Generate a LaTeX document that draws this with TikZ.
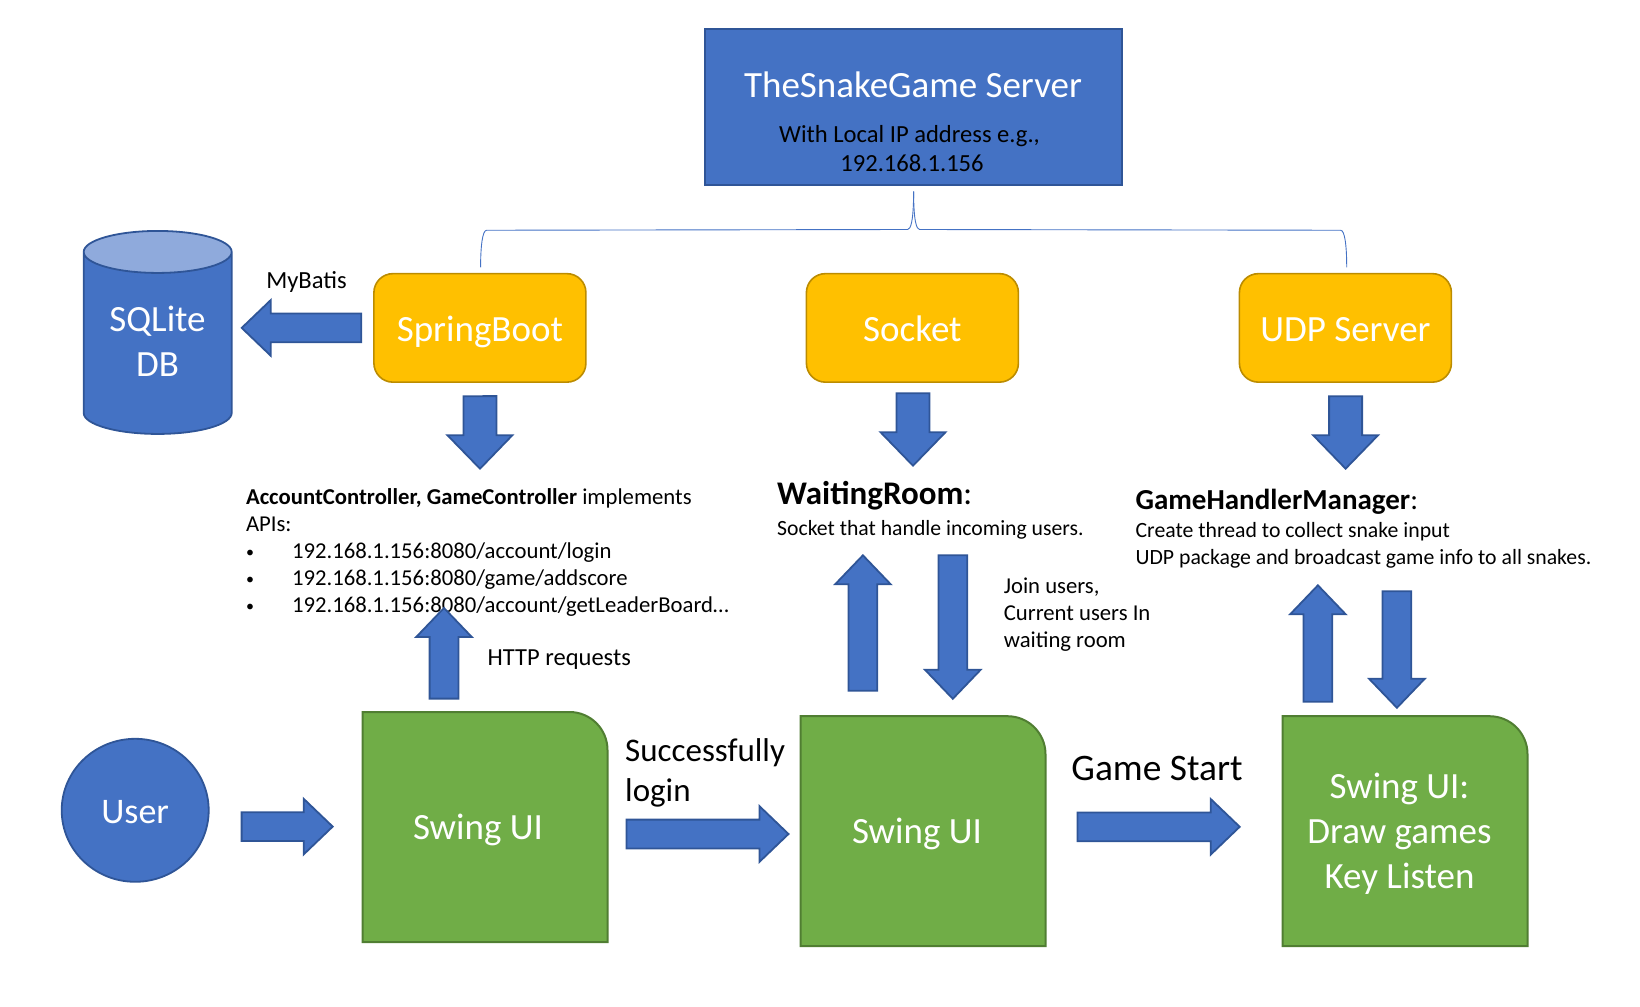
\documentclass[tikz,border=0pt]{standalone}
\usepackage{fontspec}
\setmainfont{Carlito}
\usepackage{xcolor}
\usepackage{tikz}
\usetikzlibrary{shapes.geometric, positioning, calc, backgrounds}
\definecolor{blockblue}{HTML}{4472C4}
\definecolor{blockedge}{HTML}{2F5597}
\definecolor{capblue}{HTML}{8FAADC}
\definecolor{goldfill}{HTML}{FFC000}
\definecolor{goldedge}{HTML}{BC8C00}
\definecolor{swinggreen}{HTML}{70AD47}
\definecolor{swingedge}{HTML}{507E32}
\tikzset{
  bigtext/.style={text=white,font=\fontsize{37}{45}\selectfont,align=center},
  smalltext/.style={black,inner sep=0,align=left,font=\fontsize{22.7}{27}\selectfont},
  goldbox/.style={draw=goldedge,fill=goldfill,line width=1.6,rounded corners=19,minimum width=212,minimum height=108.5,outer sep=0,bigtext,text height=26.4,text depth=0},
  swingbox/.style={minimum width=245,minimum height=230,outer sep=0,bigtext,text depth=0},
  swingback/.style={draw=swingedge,fill=swinggreen,line width=2},
  bracelink/.style={draw=blockblue,line width=0.9},
  blockpath/.style n args={3}{draw=blockedge,fill=blockblue,line width=1.8,
    to path={-- ($(\tikztostart)!#1pt!90:(\tikztotarget)$)
      -- ($($(\tikztotarget)!#3pt!(\tikztostart)$)!#1pt!90:(\tikztotarget)$)
      -- ($($(\tikztotarget)!#3pt!(\tikztostart)$)!#2pt!90:(\tikztotarget)$)
      -- (\tikztotarget)
      -- ($($(\tikztotarget)!#3pt!(\tikztostart)$)!#2pt!-90:(\tikztotarget)$)
      -- ($($(\tikztotarget)!#3pt!(\tikztostart)$)!#1pt!-90:(\tikztotarget)$)
      -- ($(\tikztostart)!#1pt!-90:(\tikztotarget)$) -- cycle}},
  blockarrow/.style={blockpath={14.4}{27.8}{29}},
  widearrow/.style={blockpath={16.5}{32.4}{33.4}},
}
\begin{document}
\begin{tikzpicture}[x=1pt,y=-1pt]%
\useasboundingbox (0,0) rectangle (1640,1006);%
\node[draw=blockedge,fill=blockblue,line width=2,outer sep=0,minimum width=417,minimum height=156] (server) at (913.2,107.2) {};%
\node[text=white,font=\fontsize{37}{45}\selectfont] (server_title) at (913,85) {TheSnakeGame Server};%
\node[black,align=center,font=\fontsize{24.6}{28.4}\selectfont] (server_ip) at (912,148.5) {With Local IP address e.g.,\hspace*{5pt}\\192.168.1.156};%
\node[goldbox] (spring) at (479.9,327.9) {SpringBoot};%
\node[goldbox] (sock) at (912.4,327.9) {Socket};%
\node[goldbox] (udp) at (1345.4,327.9) {UDP Server};%
\node[cylinder,shape border rotate=90,aspect=6.3,draw=blockedge,line width=1.8,cylinder uses custom fill,cylinder body fill=blockblue,cylinder end fill=capblue,minimum width=148,minimum height=203,outer sep=0,bigtext] (sqlite) at (157.7,346.5) {};%
\node[bigtext] (sqlite_txt) at (157.5,341.5) {SQLite\\DB};%
\node[ellipse,draw=blockedge,fill=blockblue,line width=1.8,minimum width=147,minimum height=143,inner sep=0,outer sep=0,bigtext,font=\fontsize{36}{45}\selectfont,text height=27] (user) at (135.2,810.3) {User};%
\node[swingbox] (swing1) at (485,827) {\hspace*{-14pt}Swing UI};%
\node[swingbox] (swing2) at (923,831.2) {\hspace*{-12pt}Swing UI};%
\node[swingbox] (swing3) at (1405,831.2) {\hspace*{-11pt}Swing UI:\\\hspace*{-11pt}Draw games\\\hspace*{-11pt}Key Listen};%
\begin{scope}[on background layer]%
\foreach \n in {swing1,swing2,swing3} {%
\draw[swingback] (\n.south west) -- (\n.north west) [rounded corners=38] -- (\n.north east) [sharp corners] -- (\n.south east) -- cycle;%
}%
\end{scope}%
\node[smalltext,anchor=center,font=\fontsize{24.6}{28}\selectfont] (mybatis) at (306.5,282) {MyBatis};%
\node[smalltext,anchor=north west] (account) at (245.8,488.5) {\textbf{AccountController, GameController} implements\\APIs:\\\makebox[46pt][l]{\fontsize{16}{16}\selectfont\raisebox{1.5pt}{•}}192.168.1.156:8080/account/login\\\makebox[46pt][l]{\fontsize{16}{16}\selectfont\raisebox{1.5pt}{•}}192.168.1.156:8080/game/addscore\\\makebox[46pt][l]{\fontsize{16}{16}\selectfont\raisebox{1.5pt}{•}}192.168.1.156:8080/account/getLeaderBoard…};%
\node[smalltext,anchor=north west,font=\fontsize{21.7}{26.7}\selectfont] (waiting) at (777,480.7) {{\fontsize{33}{33}\selectfont\textbf{WaitingRoom}:}\\[5pt]Socket that handle incoming users.};%
\node[smalltext,anchor=north west,font=\fontsize{21.75}{26.7}\selectfont] (game) at (1135.4,488.7) {{\fontsize{29}{29}\selectfont\textbf{GameHandlerManager}:}\\[2pt]Create thread to collect snake input\\UDP package and broadcast game info to all snakes.};%
\node[smalltext,anchor=north west] (join) at (1003.6,578) {Join users,\\Current users In\\waiting room};%
\node[smalltext,anchor=west,font=\fontsize{24.5}{28}\selectfont] (http) at (487.5,660) {HTTP requests};%
\node[smalltext,anchor=north west,font=\fontsize{33}{40}\selectfont] (success) at (625,738) {Successfully\\login};%
\node[smalltext,anchor=center,font=\fontsize{37.4}{40}\selectfont] (start) at (1157,768) {Game Start};%
\coordinate (brace_tip) at ($(server.south)+(0.4,6.3)$);%
\coordinate (brace_l) at ($(spring.north)+(0.7,-6.4)$);%
\coordinate (brace_r) at ($(udp.north)+(1.3,-6.4)$);%
\draw[bracelink] (brace_tip) .. controls +(0,30) and +(3,0) .. ++(-6,38) -- ($(brace_l)+(6,-37)$) .. controls +(-4,0) and +(0,-22) .. (brace_l);%
\draw[bracelink] (brace_tip) .. controls +(0,30) and +(-3,0) .. ++(6,38) -- ($(brace_r)+(-6,-37)$) .. controls +(4,0) and +(0,-22) .. (brace_r);%
\draw[widearrow] ($(spring.south)+(0,14)$) to ($(account.north west)+(234.2,-19.8)$);%
\draw[widearrow] ($(sock.south)+(0.6,11)$) to ($(waiting.north west)+(136,-15)$);%
\draw[widearrow] ($(udp.south)+(0.2,14)$) to ($(game.north west)+(210.2,-20)$);%
\draw[blockarrow] ($(spring.west)+(-12.6,0)$) to ($(sqlite.center |- spring.west)+(84,0)$);%
\draw[blockarrow] ($(user.east |- swing1.west)+(32.9,-0.4)$) to ($(swing1.west)+(-29.8,-0.4)$);%
\draw[blockarrow] ($(swing1.east)+(19,7)$) to ($(swing2.west)+(-12,2.8)$);%
\draw[blockarrow] ($(swing2.east)+(31.9,-4.4)$) to ($(swing3.west)+(-42.8,-4.4)$);%
\draw[blockarrow] ($(swing1.north)+(-41,-13.4)$) to ($(account.north west)+(198.2,119.5)$);%
\draw[blockarrow] ($(swing2.north)+(-60.1,-25.4)$) to ($(waiting.north west)+(85.9,74.6)$);%
\draw[blockarrow] ($(waiting.north west)+(175.8,74.6)$) to ($(swing2.north)+(29.8,-17.4)$);%
\draw[blockarrow] ($(swing3.north)+(-87.1,-14.4)$) to ($(game.north west)+(182.5,96.6)$);%
\draw[blockarrow] ($(game.north west)+(261.5,102.6)$) to ($(swing3.north)+(-8.1,-8.4)$);%
\end{tikzpicture}
\end{document}
